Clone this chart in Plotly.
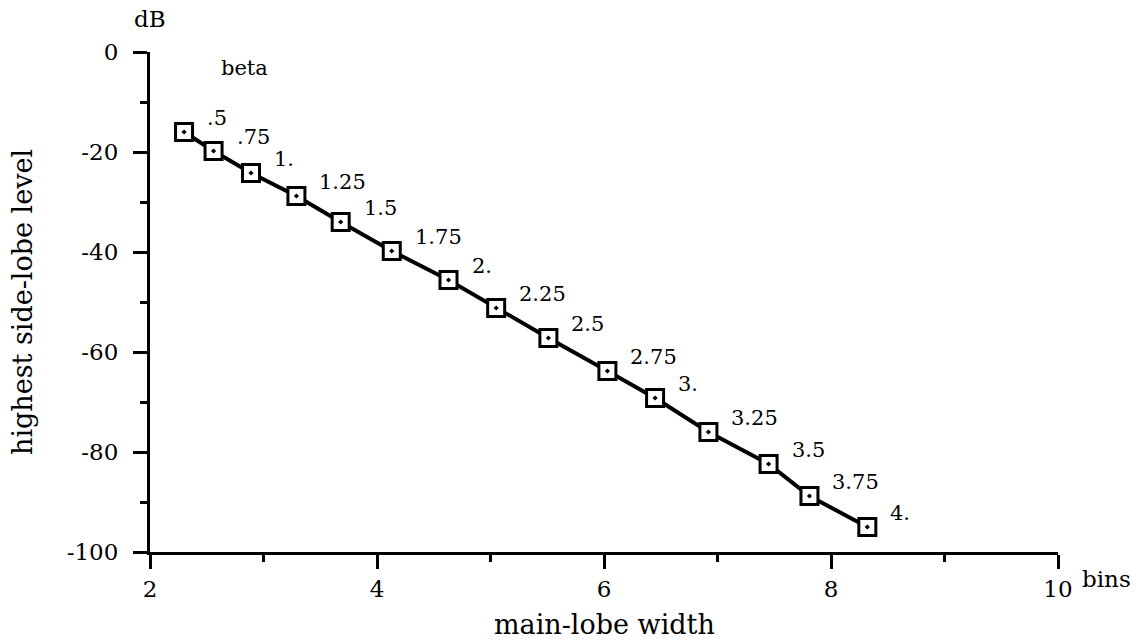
import plotly.graph_objects as go

# main-lobe width (bins) vs highest side-lobe level (dB), Kaiser-Bessel beta
main_lobe_width = [2.30, 2.56, 2.89, 3.29, 3.68, 4.13, 4.63, 5.05, 5.51, 6.03, 6.45, 6.92, 7.45, 7.81, 8.32]
side_lobe_db = [-16.0, -19.8, -24.2, -28.8, -34.0, -39.8, -45.6, -51.2, -57.2, -63.8, -69.2, -76.0, -82.4, -88.8, -95.0]
beta_labels = [".5", ".75", "1.", "1.25", "1.5", "1.75", "2.", "2.25", "2.5", "2.75", "3.", "3.25", "3.5", "3.75", "4."]

x_ticks = [2, 4, 6, 8, 10]
y_ticks = [0, -20, -40, -60, -80, -100]
y_tick_text = ["0", "-20", "-40", "-60", "-80", "-100"]

FONT = "DejaVu Serif"
TICK_SIZE = 23
LABEL_SIZE = 21
TITLE_SIZE = 27

fig = go.Figure()
fig.add_trace(go.Scatter(
    x=main_lobe_width, y=side_lobe_db, mode="lines+markers",
    line=dict(color="black", width=4),
    marker=dict(symbol="square-dot", size=17, color="white",
                line=dict(color="black", width=3)),
    showlegend=False, cliponaxis=False,
))

for xv, yv, lab in zip(main_lobe_width, side_lobe_db, beta_labels):
    fig.add_annotation(x=xv, y=yv, text=lab, showarrow=False,
                       xanchor="left", yanchor="bottom", xshift=21, yshift=0,
                       font=dict(family=FONT, size=LABEL_SIZE, color="black"))

axis_common = dict(
    showgrid=False, zeroline=False, showline=True, linecolor="black", linewidth=3,
    ticks="outside", ticklen=14, tickwidth=3, tickcolor="black",
    tickfont=dict(family=FONT, size=TICK_SIZE, color="black"),
    automargin=False,
)

fig.update_xaxes(range=[2, 10], tickvals=x_ticks, ticktext=[str(v) for v in x_ticks],
                 minor=dict(dtick=1, ticks="outside", ticklen=7, tickwidth=3, tickcolor="black"),
                 ticklabelstandoff=0, **axis_common)
fig.update_yaxes(range=[-100, 0], tickvals=y_ticks, ticktext=y_tick_text,
                 minor=dict(dtick=10, ticks="outside", ticklen=7, tickwidth=3, tickcolor="black"),
                 ticklabelstandoff=10, **axis_common)

# axis titles
fig.add_annotation(xref="paper", yref="paper", x=0.5, y=0, text="main-lobe width",
                   showarrow=False, xanchor="center", yanchor="middle", yshift=-72,
                   font=dict(family=FONT, size=TITLE_SIZE, color="black"))
fig.add_annotation(xref="paper", yref="paper", x=0, y=0.5, text="highest side-lobe level",
                   showarrow=False, xanchor="center", yanchor="middle", xshift=-128, textangle=-90,
                   font=dict(family=FONT, size=TITLE_SIZE, color="black"))

fig.add_annotation(xref="paper", yref="paper", x=0, y=1, text="dB", showarrow=False,
                   xanchor="center", yanchor="bottom", yshift=18,
                   font=dict(family=FONT, size=TICK_SIZE, color="black"))
fig.add_annotation(xref="paper", yref="paper", x=1, y=0, text="bins", showarrow=False,
                   xanchor="left", yanchor="top", xshift=22, yshift=-12,
                   font=dict(family=FONT, size=TICK_SIZE, color="black"))
fig.add_annotation(xref="x", yref="y", x=2.83, y=-3.2, text="beta", showarrow=False,
                   font=dict(family=FONT, size=21, color="black"))

fig.update_layout(
    width=1148, height=640,
    margin=dict(l=150, r=90, t=52, b=88),
    paper_bgcolor="white", plot_bgcolor="white",
    font=dict(family=FONT, color="black"),
)

fig.write_html("out.html")
